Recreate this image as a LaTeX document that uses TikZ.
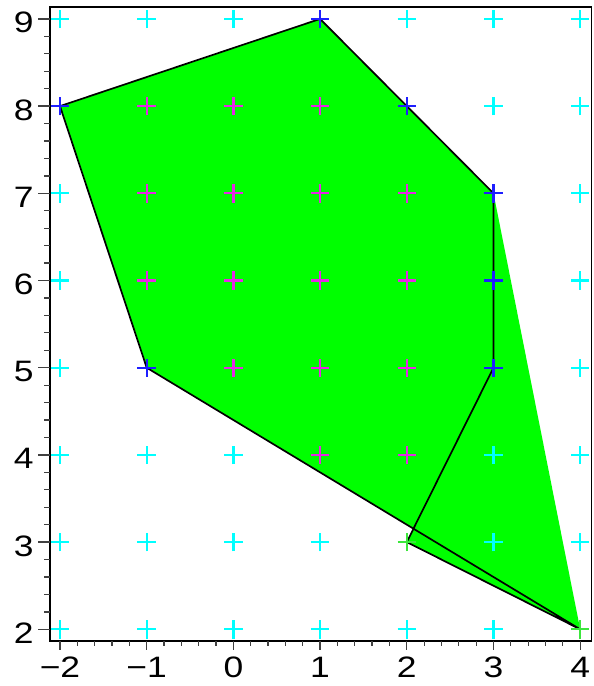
\documentclass[tikz,border=0pt]{standalone}
\usepackage{fontspec}
\setmainfont{Liberation Sans}
\definecolor{hullgreen}{RGB}{0,255,0}
\definecolor{ptcyan}{RGB}{0,255,255}
\definecolor{ptmag}{RGB}{230,40,230}
\definecolor{ptblue}{RGB}{30,30,255}
\definecolor{ptgreen}{RGB}{60,230,60}

\begin{document}
\begin{tikzpicture}[
  x=2.1675cm,y=2.18cm,
  hull/.style={fill=hullgreen},
  edge/.style={black,line width=1.2pt,line join=miter},
  frm/.style={black,line width=1pt},
  tck/.style={black!75,line width=0.9pt},
  lbl/.style={inner sep=0pt,font=\fontsize{21}{24}\selectfont,xscale=1.2},
  pics/lpt/.style={code={\draw[line width=1.6pt] (-0.23cm,0cm) -- (0.23cm,0cm) (0cm,-0.23cm) -- (0cm,0.23cm);}}]

  \useasboundingbox (-2.692,1.350) rectangle (4.148,9.217);

  % vertices of the polygon
  \coordinate (A) at (-2,8);
  \coordinate (B) at (1,9);
  \coordinate (C) at (3,7);
  \coordinate (D) at (3,5);
  \coordinate (E) at (2,3);
  \coordinate (F) at (4,2);
  \coordinate (G) at (-1,5);

  \fill[hull] (A) -- (B) -- (C) -- (F) -- (G) -- cycle;
  \fill[hull] (D) -- (E) -- (F) -- cycle;
  \draw[edge] (G) -- (A) -- (B) -- (C) -- (D) -- (E) -- (F) -- cycle;

  % frame and ticks
  \draw[frm] (-2.115,1.866) rectangle (4.133,9.136);
  \foreach \y in {2,...,9}
    \draw[tck] (-2.115,\y) -- ++(-0.29cm,0cm);
  \foreach \y in {2.2,2.4,...,8.9}
    \draw[tck] (-2.115,\y) -- ++(-0.14cm,0cm);
  \foreach \x in {-2,...,4}
    \draw[tck] (\x,1.866) -- ++(0cm,-0.23cm);
  \foreach \x in {-1.8,-1.6,...,3.9}
    \draw[tck] (\x,1.866) -- ++(0cm,-0.12cm);

  \foreach \y in {2,...,9}
    \node[lbl,anchor=base east] (ly\y) at ([yshift=-0.35cm]-2.30,\y) {\y};
  \foreach \x/\t in {-2/−2,-1/−1,0/0,1/1,2/2,3/3,4/4}
    \node[lbl,anchor=base] (lx\x) at (\x,1.450) {\t};

  % lattice points
  \foreach \p in {(-2,9),(-1,9),(0,9),(2,9),(3,9),(4,9),(3,8),(4,8),
                  (-2,7),(4,7),(-2,6),(4,6),(-2,5),(4,5),
                  (-2,4),(-1,4),(0,4),(3,4),(4,4),
                  (-2,3),(-1,3),(0,3),(1,3),(3,3),(4,3),
                  (-2,2),(-1,2),(0,2),(1,2),(2,2),(3,2)}
    \pic[color=ptcyan] at \p {lpt};
  \foreach \p in {(-1,8),(0,8),(1,8),(-1,7),(0,7),(1,7),(2,7),
                  (-1,6),(0,6),(1,6),(2,6),(0,5),(1,5),(2,5),(1,4),(2,4)}
    \pic[color=ptmag] at \p {lpt};
  \foreach \p in {(A),(B),(C),(D),(G),(2,8),(3,6)}
    \pic[color=ptblue] at \p {lpt};
  \foreach \p in {(E),(F)}
    \pic[color=ptgreen] at \p {lpt};
\end{tikzpicture}
\end{document}
